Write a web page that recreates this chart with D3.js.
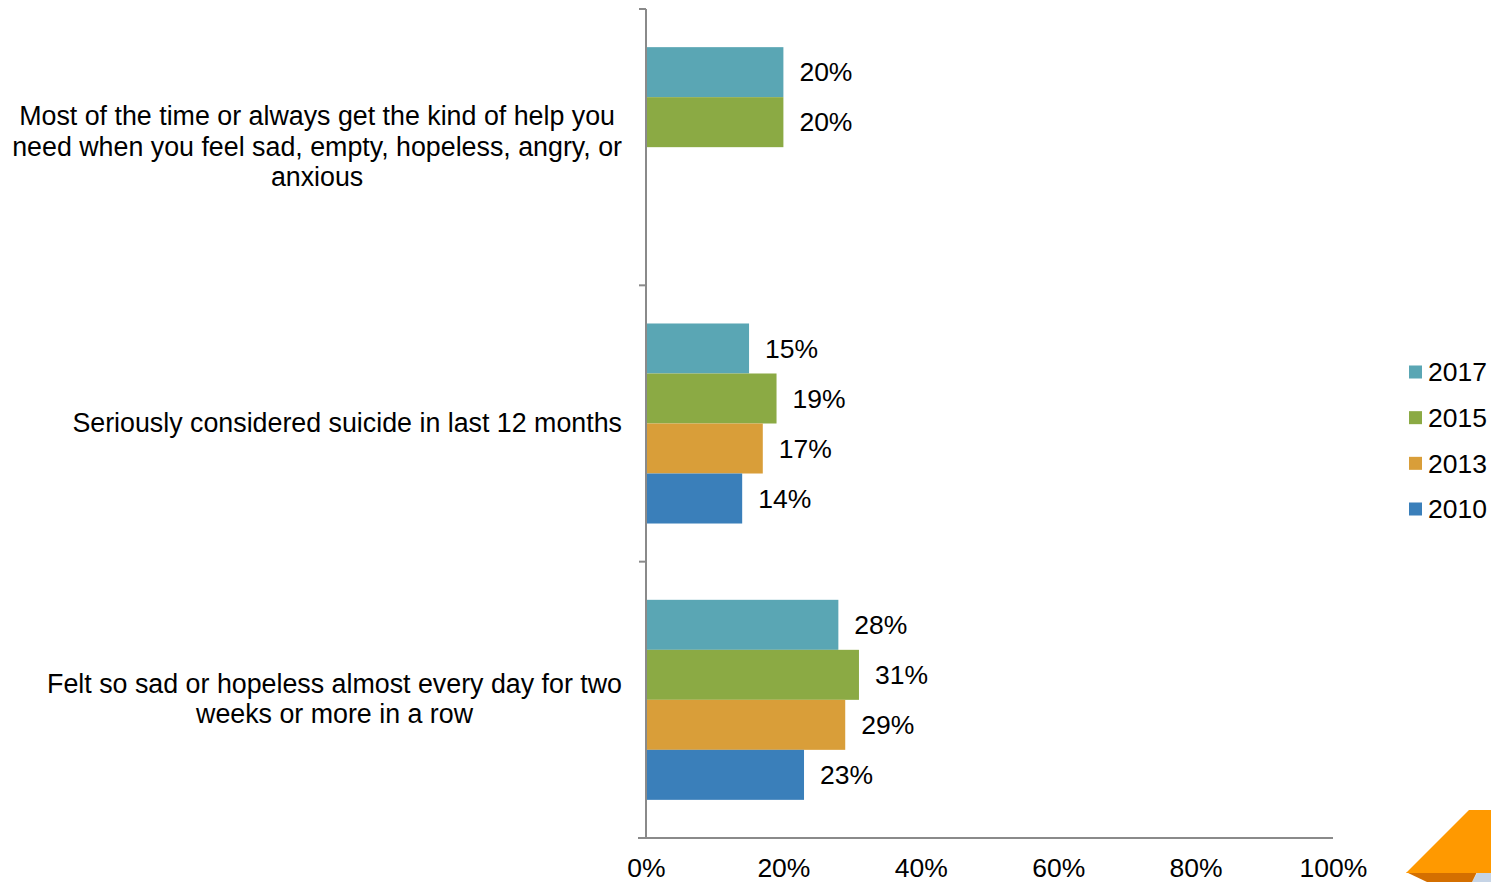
<!DOCTYPE html>
<html>
<head>
<meta charset="utf-8">
<script src="https://cdn.jsdelivr.net/npm/d3@7"></script>
<style>
  html, body { margin: 0; padding: 0; background: #fff; overflow: hidden; }
  svg { display: block; font-family: "Liberation Sans", Arial, sans-serif; }
</style>
</head>
<body>
<svg id="chart" width="1491" height="882"></svg>
<script>
// ---- data ----
const categories = [
  "Most of the time or always get the kind of help you\nneed when you feel sad, empty, hopeless, angry, or\nanxious",
  "Seriously considered suicide in last 12 months",
  "Felt so sad or hopeless almost every day for two\nweeks or more in a row"
];
const seriesNames = ["2017", "2015", "2013", "2010"];
const values2017 = [20, 15, 28];
const values2015 = [20, 19, 31];
const values2013 = [null, 17, 29];
const values2010 = [null, 14, 23];
const xTicks = [0, 20, 40, 60, 80, 100];
const colors = ["#5aa6b4", "#8baa44", "#d99e39", "#3a7fba"];

const seriesValues = [values2017, values2015, values2013, values2010];

const svg = d3.select("#chart");
const fontSize = 26.5;
const labelFontSize = 26.8;

const x = d3.scaleLinear().domain([0, 100]).range([646, 1333]);
const y = d3.scaleBand().domain(categories).range([9, 838]).padding(0);
const yInner = d3.scaleBand().domain(seriesNames).range([0, y.bandwidth()])
  .paddingInner(0).paddingOuter(0.763);

// bars
categories.forEach((cat, ci) => {
  const g = svg.append("g").attr("transform", `translate(0,${y(cat)})`);
  seriesNames.forEach((s, si) => {
    const v = seriesValues[si][ci];
    if (v == null) return;
    g.append("rect")
      .attr("x", x(0))
      .attr("y", yInner(s))
      .attr("width", x(v) - x(0))
      .attr("height", yInner.bandwidth())
      .attr("fill", colors[si]);
    g.append("text")
      .attr("x", x(v) + 16)
      .attr("y", yInner(s) + yInner.bandwidth() / 2)
      .attr("dy", "0.35em")
      .attr("font-size", fontSize)
      .attr("fill", "#000")
      .text(v + "%");
  });
});

// axes
const axisColor = "#8a8a8a";
const yAxis = d3.axisLeft(y).tickSize(0).tickFormat("");
const yg = svg.append("g").attr("transform", `translate(${x(0)},0)`).call(yAxis);
yg.select(".domain").remove();
yg.append("line").attr("x1", 0).attr("x2", 0).attr("y1", 9).attr("y2", 838)
  .attr("stroke", axisColor).attr("stroke-width", 2);
const boundaries = categories.map(c => y(c)).concat([y.range()[1]]);
boundaries.forEach(b => {
  yg.append("line").attr("x1", -7).attr("x2", 0).attr("y1", b).attr("y2", b)
    .attr("stroke", axisColor).attr("stroke-width", 2);
});

const xAxis = d3.axisBottom(x).tickValues(xTicks).tickSize(0).tickFormat(d => d + "%");
const xg = svg.append("g").attr("transform", "translate(0,838)").call(xAxis);
xg.select(".domain").remove();
xg.append("line").attr("x1", 638).attr("x2", 1333).attr("y1", 0).attr("y2", 0)
  .attr("stroke", axisColor).attr("stroke-width", 2);
xg.selectAll(".tick text")
  .attr("font-size", fontSize)
  .attr("font-family", "Liberation Sans, Arial, sans-serif")
  .attr("fill", "#000")
  .attr("y", 39)
  .attr("dy", null);

// category labels (centered block, right edge at 622)
categories.forEach(cat => {
  const lines = cat.split("\n");
  const lh = 30.5;
  const cy = y(cat) + y.bandwidth() / 2;
  const t = svg.append("text").attr("font-size", labelFontSize).attr("fill", "#000")
    .attr("text-anchor", "middle");
  lines.forEach((ln, i) => {
    t.append("tspan").attr("x", 0)
      .attr("y", cy + (i - (lines.length - 1) / 2) * lh - 1)
      .attr("dy", "0.35em").text(ln);
  });
  const w = t.node().getBBox().width;
  t.attr("transform", `translate(${622 - w / 2},0)`);
});

// legend
const legend = svg.append("g");
const legendY = d3.scalePoint().domain(seriesNames).range([372, 509]);
seriesNames.forEach((s, i) => {
  legend.append("rect").attr("x", 1409).attr("y", legendY(s) - 6.5)
    .attr("width", 13).attr("height", 13).attr("fill", colors[i]);
  legend.append("text").attr("x", 1428).attr("y", legendY(s)).attr("dy", "0.35em")
    .attr("font-size", fontSize).attr("fill", "#000").text(s);
});

// decorative corner shape
svg.append("polygon").attr("points", "1477,873 1491,873 1491,882 1472,882").attr("fill", "#c6d4e6");
svg.append("polygon").attr("points", "1406,872 1477,872 1472,882 1427,882").attr("fill", "#d46f00");
svg.append("polygon").attr("points", "1469,810 1491,810 1491,873 1406,873").attr("fill", "#ff9900");
</script>
</body>
</html>
